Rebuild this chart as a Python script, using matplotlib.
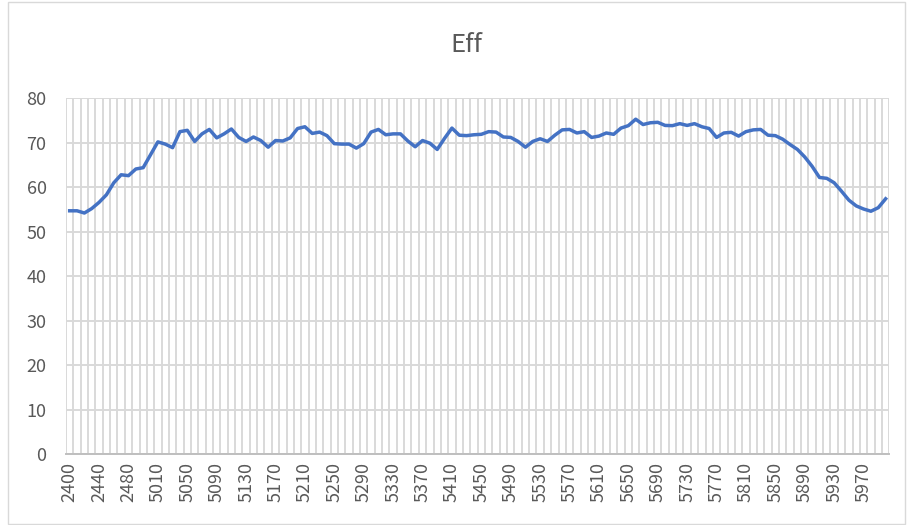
import numpy as np
import matplotlib as mpl
mpl.use("Agg")
from matplotlib import pyplot as plt

# categories: 2.4G band then 5G band, 10 MHz steps
freqs = list(range(2400, 2510, 10)) + list(range(5000, 6010, 10))

eff = [
    54.7, 54.7, 54.2, 55.2, 56.6, 58.3, 61.0, 62.8, 62.6, 64.1,
    64.4, 67.3, 70.2, 69.7, 68.9, 72.5, 72.8, 70.3, 72.0, 73.0,
    71.1, 72.0, 73.1, 71.2, 70.3, 71.3, 70.5, 69.0, 70.5, 70.4,
    71.1, 73.2, 73.6, 72.1, 72.4, 71.6, 69.8, 69.7, 69.7, 68.8,
    69.8, 72.4, 73.0, 71.8, 72.0, 72.0, 70.4, 69.1, 70.5, 69.9,
    68.5, 71.0, 73.3, 71.7, 71.6, 71.8, 71.9, 72.5, 72.4, 71.3,
    71.2, 70.3, 69.0, 70.3, 70.9, 70.3, 71.7, 72.9, 73.0, 72.2,
    72.5, 71.2, 71.5, 72.2, 71.9, 73.3, 73.85, 75.3, 74.1, 74.5,
    74.6, 73.9, 73.85, 74.3, 73.9, 74.3, 73.6, 73.2, 71.2, 72.2,
    72.35, 71.5, 72.5, 72.9, 73.0, 71.7, 71.6, 70.8, 69.6, 68.5,
    66.8, 64.7, 62.2, 62.0, 61.0, 59.1, 57.1, 55.8, 55.1, 54.6,
    55.4, 57.4,
]

y_ticks = [0, 10, 20, 30, 40, 50, 60, 70, 80]

plt.rcParams["font.family"] = ["Noto Sans CJK SC", "DejaVu Sans"]
text_color = "#595959"
grid_color = "#d9d9d9"

fig = plt.figure(figsize=(9.07, 5.25), dpi=100)
ax = fig.add_axes([66 / 907, 1 - 454 / 525, 823.3 / 907, (454 - 98.3) / 525])

x = np.arange(len(freqs))
ax.plot(x, eff, color="#4472c4", linewidth=2.5, solid_joinstyle="round", zorder=3)

ax.set_xlim(-0.5, len(freqs) - 0.5)
ax.set_ylim(0, 80)

# category gridlines sit between categories
ax.set_xticks(np.arange(-0.5, len(freqs), 1), minor=True)
ax.set_xticks(x[::4])
ax.set_xticklabels([str(f) for f in freqs[::4]], rotation=90)
ax.set_yticks(y_ticks)
ax.grid(which="minor", axis="x", color=grid_color, linewidth=1.4)
ax.grid(which="major", axis="y", color=grid_color, linewidth=1.4)
ax.set_axisbelow(True)

ax.tick_params(axis="both", which="both", length=0, colors=text_color, labelsize=13)
ax.tick_params(axis="x", pad=6)
ax.tick_params(axis="y", pad=14)

for side in ["top", "right", "left"]:
    ax.spines[side].set_visible(False)
ax.spines["bottom"].set_color("#bfbfbf")
ax.spines["bottom"].set_linewidth(1.4)

fig.text(466 / 907, 1 - 45 / 525, "Eff", ha="center", va="center",
         fontsize=18.5, color=text_color)

# chart area border
border = mpl.patches.Rectangle((8 / 907, 1 / 525), 897 / 907, 522 / 525,
                               transform=fig.transFigure, fill=False,
                               edgecolor=grid_color, linewidth=1.0)
fig.patches.append(border)

plt.savefig("out.png", dpi=100)
plt.close()
